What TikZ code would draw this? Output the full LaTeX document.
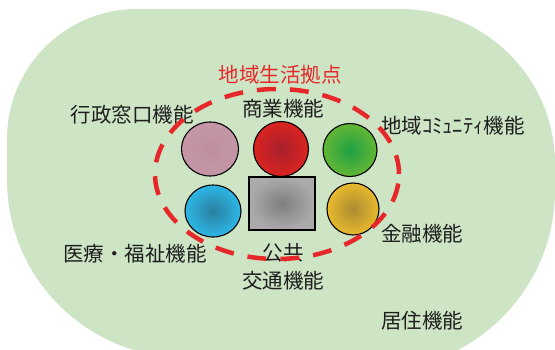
\documentclass[tikz,border=0pt]{standalone}
\usepackage{fontspec}
\newfontfamily\jp{Noto Sans CJK JP}
\usetikzlibrary{shapes.geometric}
\definecolor{bggreen}{HTML}{CDE5C5}
\definecolor{hubred}{HTML}{E6282B}
\definecolor{txt}{HTML}{1E1E1E}
\definecolor{pinkA}{HTML}{C597A6}
\definecolor{pinkB}{HTML}{BE8E9E}
\definecolor{redA}{HTML}{DB2420}
\definecolor{redB}{HTML}{A8202E}
\definecolor{greenA}{HTML}{62B735}
\definecolor{greenB}{HTML}{20A043}
\definecolor{blueA}{HTML}{2DB7E6}
\definecolor{blueB}{HTML}{2A7FA0}
\definecolor{grayA}{HTML}{ABABAB}
\definecolor{grayB}{HTML}{7E7E7E}
\definecolor{yelA}{HTML}{E9BA2E}
\definecolor{yelB}{HTML}{A98A30}
\tikzset{
  func/.style={ellipse, draw=black, line width=1.1pt, inner sep=0pt},
  lbl/.style={text=txt, inner sep=0pt, font=\jp\fontsize{20.5}{21}\selectfont},
}
\begin{document}
\begin{tikzpicture}[x=1pt,y=-1pt]
\useasboundingbox (0,0) rectangle (555,349);
\begin{scope}
\clip (0,0) rectangle (555,349);
\fill[bggreen] (7,139) .. controls (7,67.2) and (65.2,9) .. (137,9)
  -- (400,9) .. controls (485.6,9) and (555,78.4) .. (555,164)
  -- (555,190) .. controls (555,289.4) and (474.4,370) .. (375,370)
  -- (187,358) .. controls (87.6,358) and (7,278.3) .. (7,180) -- cycle;
\end{scope}
% function circles
\node[func, minimum width=57pt, minimum height=54pt, inner color=pinkB, outer color=pinkA] (gyosei) at (210,149) {};
\node[func, minimum width=55pt, minimum height=55pt, inner color=redB, outer color=redA] (shogyo) at (281,149) {};
\node[func, minimum width=54pt, minimum height=53pt, inner color=greenB, outer color=greenA] (chiiki) at (350,150) {};
\node[func, minimum width=56pt, minimum height=52pt, inner color=blueB, outer color=blueA] (iryo) at (213,211) {};
\node[rectangle, draw=black, line width=1.1pt, minimum width=66pt, minimum height=53pt, inner sep=0pt, inner color=grayB, outer color=grayA] (kotsu) at (282,203.5) {};
\node[func, minimum width=52pt, minimum height=52pt, inner color=yelB, outer color=yelA] (kinyu) at (353,209) {};
% labels
\node[lbl, text=hubred] (title) at (280,75) {地域生活拠点};
\node[lbl] (l1) at (132,115) {行政窓口機能};
\node[lbl] (l2) at (283,109) {商業機能};
\node[lbl, anchor=west] (l3) at (381,126) {地域ｺﾐｭﾆﾃｨ機能};
\node[lbl, anchor=west] (l4) at (381,234) {金融機能};
\node[lbl, anchor=west] (l5) at (381,321) {居住機能};
\node[lbl] (l6) at (135,254) {医療・福祉機能};
\node[lbl] (l7) at (283,253) {公共};
\node[lbl] (l8) at (283,281) {交通機能};
% hub dashed ellipse
\node[ellipse, draw=hubred, line width=4.5pt, dash pattern=on 19pt off 14pt,
      minimum width=244pt, minimum height=170pt, inner sep=0pt] (hub) at (277,174) {};
\end{tikzpicture}
\end{document}
